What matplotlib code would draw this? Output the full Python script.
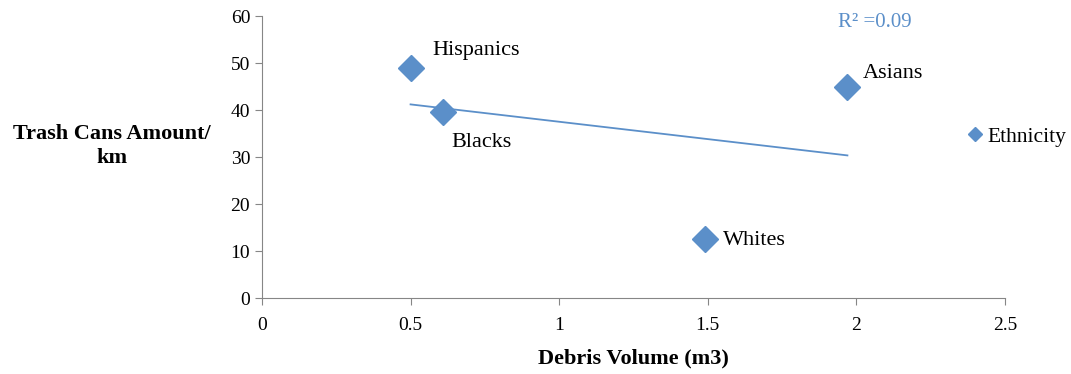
import numpy as np
import matplotlib.pyplot as plt

plt.rcParams['font.family'] = ['Liberation Serif', 'DejaVu Serif']

groups = ['Hispanics', 'Blacks', 'Whites', 'Asians']
debris_volume = [0.50, 0.61, 1.49, 1.97]
trash_cans = [48.9, 39.6, 12.5, 44.8]
label_offsets = [(16, 13), (6, -22), (13, -1), (11, 10)]

blue = '#5B8FC9'
grey = '#868686'

fig = plt.figure(figsize=(10.71, 3.74), dpi=100)
ax = fig.add_axes([0.2446, 0.2032, 0.6937, 0.754])

ax.plot(debris_volume, trash_cans, linestyle='none', marker='D', markersize=13,
        color=blue, label='Ethnicity')

# linear trend line
k, b = np.polyfit(debris_volume, trash_cans, 1)
xs = np.array([min(debris_volume), max(debris_volume)])
ax.plot(xs, k * xs + b, color=blue, linewidth=1.3)

for name, x, y, off in zip(groups, debris_volume, trash_cans, label_offsets):
    ax.annotate(name, (x, y), xytext=off, textcoords='offset points',
                fontsize=16, va='center', ha='left')

ax.text(1.94, 58.7, 'R² =0.09', color=blue, fontsize=15, va='center', ha='left')

ax.set_xlim(0, 2.5)
ax.set_ylim(0, 60)
ax.set_xticks([0, 0.5, 1, 1.5, 2, 2.5])
ax.set_xticklabels(['0', '0.5', '1', '1.5', '2', '2.5'])
ax.set_yticks(range(0, 61, 10))

for s in ['top', 'right']:
    ax.spines[s].set_visible(False)
for s in ['left', 'bottom']:
    ax.spines[s].set_color(grey)
ax.tick_params(colors=grey, labelcolor='black', labelsize=14, length=5, direction='out')
ax.tick_params(axis='x', pad=9)

ax.set_xlabel('Debris Volume (m3)', fontsize=16, fontweight='bold', labelpad=10)
fig.text(0.1046, 0.609, 'Trash Cans Amount/\nkm', fontsize=16, fontweight='bold',
         ha='center', va='center', multialignment='center', linespacing=1.3)

ax.legend(loc='center left', bbox_to_anchor=(0.886, 0.635), bbox_transform=fig.transFigure,
          frameon=False, fontsize=15.5, markerscale=0.55, handlelength=0.6, handletextpad=0.3)

fig.savefig('out.png', dpi=100)
